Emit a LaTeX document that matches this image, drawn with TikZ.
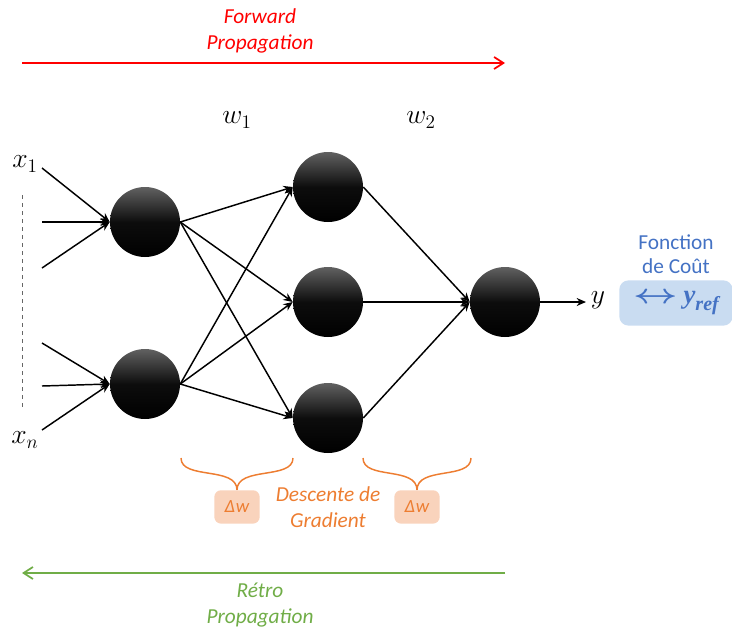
\documentclass[tikz,border=0pt]{standalone}
\usepackage{amsmath}
\usepackage{graphicx}
\usepackage{fontspec}
\setmainfont{Carlito}
\newfontfamily\serifbi{Liberation Serif}
\usetikzlibrary{arrows.meta}
\definecolor{fwd}{HTML}{FF0000}
\definecolor{bwd}{HTML}{70AD47}
\definecolor{org}{HTML}{ED7D31}
\definecolor{orgl}{HTML}{F9D3BC}
\definecolor{blu}{HTML}{4472C4}
\definecolor{blul}{HTML}{C9DCF1}
\tikzset{
  neuron/.style={circle,minimum size=52.5pt,inner sep=0pt,top color=black!62,bottom color=black,middle color=black!95,shading angle=0},
  edge/.style={line width=1.1pt,-{Stealth[length=7pt,width=6pt]}},
  lbl/.style={font=\fontsize{21}{23}\selectfont},
  ital/.style={font=\fontsize{16}{19.5}\selectfont\itshape,align=center},
  dbox/.style={fill=orgl,rounded corners=5pt,minimum width=34pt,minimum height=25pt,inner sep=0pt,text=org,font=\fontsize{14}{16}\selectfont\itshape},
  brace/.style={draw=org,line width=1.1pt}
}
\begin{document}
\begin{tikzpicture}[x=0.75pt,y=-0.75pt]
\useasboundingbox (0,0) rectangle (732,629);
% neurons
\node[neuron] (n1) at (145,222) {};
\node[neuron] (n2) at (145,384) {};
\node[neuron] (h1) at (328,187) {};
\node[neuron] (h2) at (328,302) {};
\node[neuron] (h3) at (328,418) {};
\node[neuron] (o) at (505,302) {};
% inputs
\coordinate (a1) at (42,168);
\coordinate (a2) at (42,222);
\coordinate (a3) at (42,268);
\coordinate (b1) at (42,343);
\coordinate (b2) at (42,386);
\coordinate (b3) at (42,430);
\foreach \s in {a1,a2,a3} \draw[edge] (\s) -- (n1.west);
\foreach \s in {b1,b2,b3} \draw[edge] (\s) -- (n2.west);
\node[lbl] (x1) at (25,164) {$x_1$};
\node[lbl] (xn) at (25,440) {$x_n$};
\coordinate (d1) at (22,195);
\coordinate (d2) at (22,410);
\draw[gray!80!black,dashed,line width=0.6pt] (d1) -- (d2);
% hidden connections
\foreach \s in {n1,n2} \foreach \t in {h1,h2,h3} \draw[edge] (\s.east) -- (\t.west);
\foreach \s in {h1,h2,h3} \draw[edge] (\s.east) -- (o.west);
\node[lbl] (y) at (598,300) {$y$};
\coordinate (ye) at (586,302);
\draw[edge] (o.east) -- (ye);
\node[lbl] (w1) at (237,120) {$w_1$};
\node[lbl] (w2) at (421,120) {$w_2$};
% forward
\coordinate (f1) at (22,63);
\coordinate (f2) at (505,63);
\draw[fwd,line width=1.3pt,-{Straight Barb[length=7pt,width=9pt]}] (f1) -- (f2);
\node[ital,text=fwd] (ft) at (260,31) {Forward\\Propagation};
% backward
\coordinate (r1) at (505,573);
\coordinate (r2) at (22,573);
\draw[bwd,line width=1.3pt,-{Straight Barb[length=7pt,width=9pt]}] (r1) -- (r2);
\node[ital,text=bwd] (rt) at (260,605) {Rétro\\Propagation};
% cost
\node[font=\fontsize{16}{18}\selectfont,text=blu,align=center,inner sep=1pt] (ct) at (676,254) {Fonction\\de Coût};
\node[fill=blul,rounded corners=7pt,minimum width=85pt,minimum height=34pt,inner sep=0pt,anchor=west,text=blu,font=\fontsize{20}{22}\selectfont] (cb) at (619,303) {\scalebox{1.4}[1]{$\boldsymbol{\leftrightarrow}$}\ {\serifbi\bfseries\itshape y\raisebox{-5pt}{\fontsize{15}{16}\selectfont ref}}\hspace{1pt}};
% gradient
\coordinate (t1) at (237,490);
\coordinate (t2) at (417,490);
\draw[brace] (181,458) .. controls (181,480) and (237,466) .. (t1);
\draw[brace] (293,458) .. controls (293,480) and (237,466) .. (t1);
\draw[brace] (363,458) .. controls (363,480) and (417,466) .. (t2);
\draw[brace] (471,458) .. controls (471,480) and (417,466) .. (t2);
\node[dbox,anchor=north] (dw1) at (t1) {Δ\kern0.5pt w};
\node[dbox,anchor=north] (dw2) at (t2) {Δ\kern0.5pt w};
\node[ital,text=org] (gt) at (328,507) {Descente de\\Gradient};
\end{tikzpicture}
\end{document}
